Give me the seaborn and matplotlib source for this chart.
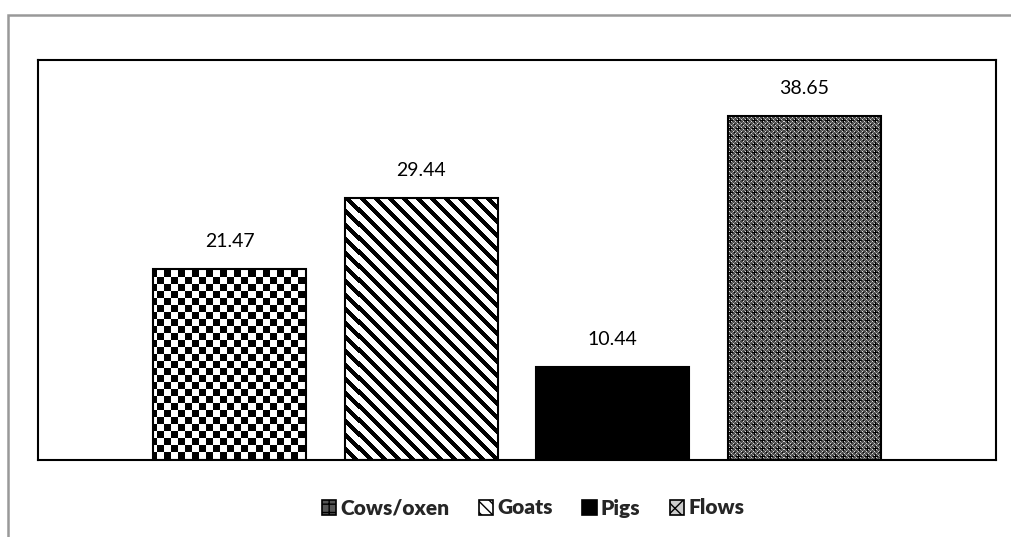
import numpy as np
import pandas as pd
import matplotlib
matplotlib.use("Agg")
import matplotlib.pyplot as plt
from matplotlib.patches import Rectangle, Patch
import seaborn as sns

# Livestock shares (%)
categories = ["Cows/oxen", "Goats", "Pigs", "Flows"]
values = [21.47, 29.44, 10.44, 38.65]
value_labels = ["21.47", "29.44", "10.44", "38.65"]

sns.set_theme(style="white")
plt.rcParams["font.family"] = ["Lato", "DejaVu Sans"]

W, H, DPI = 1012, 537, 100
fig = plt.figure(figsize=(W / DPI, H / DPI), dpi=DPI)
ax_l, ax_r, ax_t, ax_b = 38, 996, 60, 460
ax = fig.add_axes([ax_l / W, 1 - ax_b / H, (ax_r - ax_l) / W, (ax_b - ax_t) / H])

df = pd.DataFrame({"animal": categories, "share": values})
sns.barplot(data=df, x="animal", y="share", order=categories, color="white",
            width=0.8, edgecolor="black", linewidth=1.5, ax=ax, zorder=2)
ax.set_xlim(-1, 4)
ax.set_ylim(0, 45)
ax.set_xlabel("")
ax.set_ylabel("")
ax.set_xticks([])
ax.set_yticks([])
for s in ax.spines.values():
    s.set_visible(True)
    s.set_color("black")
    s.set_linewidth(1.5)

# Pixel textures covering the whole axes area, clipped to each bar
pw, ph = ax_r - ax_l, ax_b - ax_t
yy, xx = np.mgrid[0:ph, 0:pw]


def checker(cell=7):
    return np.where(((xx // cell) + (yy // cell)) % 2 == 0, 0.0, 1.0)


def stripes(period=14, thick=6):
    return np.where(((xx - yy) % period) < thick, 0.0, 1.0)


def lattice():
    tile = np.full((8, 8), 0.28)
    tile[::2, ::2] = 0.5
    tile[1::4, 1::4] = 0.85
    tile[3::4, 3::4] = 0.85
    tile[4, 2:7] = 0.02
    tile[2:7, 4] = 0.02
    tile[0, 0] = 0.02
    reps = (ph // 8 + 1, pw // 8 + 1)
    return np.tile(tile, reps)[:ph, :pw]


textures = {"Cows/oxen": checker(), "Goats": stripes(), "Flows": lattice()}

bars = list(ax.patches)
for bar, name in zip(bars, categories):
    if name == "Pigs":
        bar.set_facecolor("black")
        continue
    im = ax.imshow(textures[name], cmap="gray", vmin=0, vmax=1,
                   extent=(-1, 4, 0, 45), origin="upper",
                   interpolation="nearest", aspect="auto", zorder=2.5)
    im.set_clip_path(bar)
    bar.set_zorder(3)
    bar.set_facecolor("none")

for bar, lab in zip(bars, value_labels):
    ax.annotate(lab, (bar.get_x() + bar.get_width() / 2, bar.get_height()),
                xytext=(0, 14), textcoords="offset points",
                ha="center", va="bottom", fontsize=14, color="black")

handles = [
    Patch(facecolor="#555555", edgecolor="black", hatch="++", linewidth=1.2),
    Patch(facecolor="white", edgecolor="black", hatch="\\\\\\", linewidth=1.2),
    Patch(facecolor="black", edgecolor="black", linewidth=1.2),
    Patch(facecolor="#cccccc", edgecolor="black", hatch="xx", linewidth=1.2),
]
leg = fig.legend(handles, categories, loc="center", ncol=4,
                 bbox_to_anchor=(533 / W, 1 - 508 / H), frameon=False,
                 handlelength=0.7, handleheight=0.7, handletextpad=0.2,
                 columnspacing=1.4, prop={"weight": "heavy", "size": 15})

# Outer chart frame
fig.add_artist(Rectangle((8 / W, -0.2), 1.2, (1 - 15 / H) + 0.2,
                         transform=fig.transFigure, fill=False,
                         edgecolor="#999999", linewidth=1.8))

fig.savefig("out.png", dpi=DPI, facecolor="white")
